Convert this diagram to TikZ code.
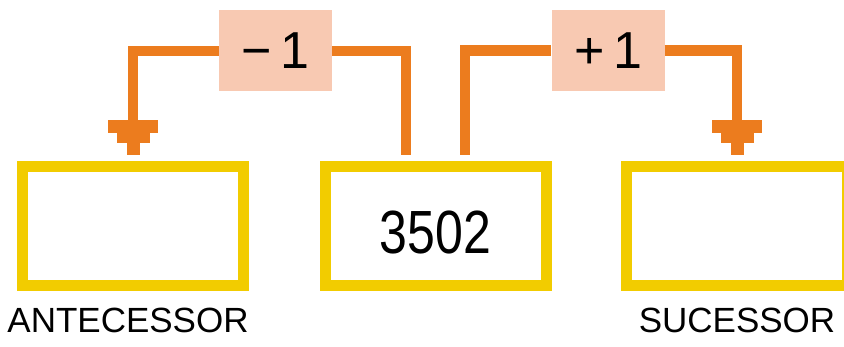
\documentclass[tikz,border=0pt]{standalone}
\usepackage{fontspec}
\setmainfont{Liberation Sans}
\usepackage{tikz}
\usetikzlibrary{positioning,arrows.meta}
\definecolor{boxyellow}{RGB}{242,204,0}
\definecolor{linkorange}{RGB}{236,124,30}
\definecolor{steppink}{RGB}{248,201,178}
\tikzset{numbox/.style={draw=boxyellow,line width=11pt,minimum width=221pt,minimum height=119pt,inner sep=0pt},
         opbox/.style={fill=steppink,minimum width=113pt,minimum height=81pt,inner sep=0pt,font=\fontsize{52}{60}\selectfont},
         caption/.style={inner sep=0pt,font=\fontsize{35}{42}\selectfont},
         link/.style={draw=linkorange,line width=10.5pt},
         steptip/.style={-{Rectangle[length=13pt,width=50pt,sep=0pt,line width=0pt]Rectangle[length=10pt,width=33pt,sep=0pt,line width=0pt]Rectangle[length=12pt,width=13pt,sep=0pt,line width=0pt]},shorten >=6pt}
}
\begin{document}
\begin{tikzpicture}[x=1pt,y=-1pt]
\clip (0,0) rectangle (844,347);

% Boxes
\node[numbox] (ante) at (133,226) {};
\node[numbox] (mid) at (435.5,226) {\fontsize{61}{68}\selectfont\raisebox{-6pt}[\height][0pt]{\scalebox{0.82}[1]{3502}}};
\node[numbox] (suc) at (737,226) {};

% Operations
\node[opbox] (minus) at (275.5,51) {−\,1};
\node[opbox] (plus) at (608,50.5) {+\,1};

% Links
\draw[link,shorten <=6pt] ([xshift=-29.5pt]mid.north) |- (minus.east);
\draw[link,steptip] (minus.west) -| (ante.north);
\draw[link,shorten <=6pt] ([xshift=29.5pt]mid.north) |- (plus.west);
\draw[link,steptip] (plus.east) -| (suc.north);

% Text Node
\node[caption,below=17pt of ante.south,xshift=-5pt] (antelabel) {ANTECESSOR};
% Text Node
\node[caption,below=17pt of suc.south] (suclabel) {SUCESSOR};

\end{tikzpicture}
\end{document}
